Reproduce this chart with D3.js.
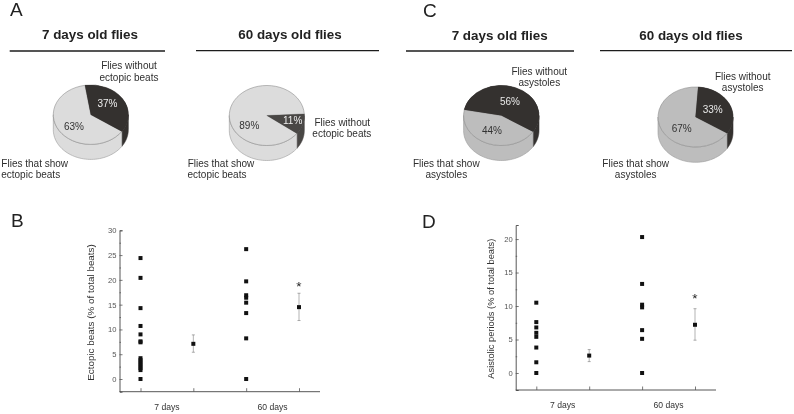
<!DOCTYPE html>
<html><head><meta charset="utf-8">
<script src="https://cdn.jsdelivr.net/npm/d3@7"></script>
<style>html,body{margin:0;padding:0;background:#fff}svg{display:block;filter:blur(0.35px)}text{font-family:"Liberation Sans",Arial,sans-serif}</style>
</head><body><svg id="c" width="794" height="414"></svg>
<script>
// ---- data ----
const pieA7 = [37, 63];
const pieA60 = [11, 89];
const pieC7 = [56, 44];
const pieC60 = [33, 67];
const titles = ["7 days old flies", "60 days old flies"];
const ageLabels = ["7 days", "60 days"];
const ectopic7 = [24.4, 20.4, 14.3, 10.7, 9.0, 7.6, 7.4, 4.2, 3.8, 3.4, 3.0, 2.6, 2.2, 1.8, 0];
const ectopic60 = [26.2, 19.7, 16.9, 16.4, 15.4, 13.3, 8.2, 0];
const ectopicMean = [7.1, 14.5];
const ectopicLow = [5.4, 11.8];
const ectopicHigh = [8.9, 17.3];
const asys7 = [10.5, 7.6, 6.8, 6.0, 5.4, 3.8, 1.6, 0];
const asys60 = [20.3, 13.3, 10.2, 9.8, 6.4, 5.1, 0];
const asysMean = [2.6, 7.2];
const asysLow = [1.7, 4.9];
const asysHigh = [3.5, 9.6];
const ectopicTicks = [0, 5, 10, 15, 20, 25, 30];
const ectopicMinor = [2.5, 7.5, 12.5, 17.5, 22.5, 27.5];
const asysTicks = [0, 5, 10, 15, 20];
const asysMinor = [2.5, 7.5, 12.5, 17.5];
const slots = ["points7", "mean7", "points60", "mean60"];

const svg = d3.select("#c");
const ink = "#2f2f2f";
const tau = Math.PI * 2, rad = d => d * Math.PI / 180;

function txt(x, y, s, o = {}) {
  return svg.append("text").attr("x", x).attr("y", y).text(s)
    .attr("text-anchor", o.a || "middle").attr("font-size", o.size || 10)
    .attr("font-weight", o.w || "normal").attr("fill", o.fill || ink)
    .attr("transform", o.rot ? `rotate(${o.rot} ${x} ${y})` : null);
}
function rule(x1, x2, y) {
  svg.append("line").attr("x1", x1).attr("x2", x2).attr("y1", y).attr("y2", y)
    .attr("stroke", "#1c1c1c").attr("stroke-width", 1.3);
}

function pie3d(values, o) {
  const {cx, cy, rx, ry, depth, startDeg, dark, light} = o;
  const slices = d3.pie().sort(null).value(d => d)
    .startAngle(rad(startDeg)).endAngle(rad(startDeg) + tau)(values);
  const g = svg.append("g").attr("transform", `translate(${cx},${cy})`);
  const px = a => rx * Math.sin(a), py = a => -ry * Math.cos(a);
  const wall = (a0, a1) => {
    const out = [];
    [0, tau, -tau].forEach(sh => {
      const lo = Math.max(a0 + sh, Math.PI / 2), hi = Math.min(a1 + sh, 1.5 * Math.PI);
      if (hi > lo) out.push([lo, hi]);
    });
    return out;
  };
  const cols = [dark, light];
  slices.forEach((s, i) => {
    wall(s.startAngle, s.endAngle).forEach(([lo, hi]) => {
      const n = 48, top = d3.range(n + 1).map(k => lo + (hi - lo) * k / n);
      const pts = top.map(a => [px(a), py(a)])
        .concat(top.slice().reverse().map(a => [px(a), py(a) + depth]));
      g.append("path").attr("d", d3.line()(pts) + "Z").attr("fill", cols[i])
        .attr("stroke", i ? "#9a9a9a" : cols[i]).attr("stroke-width", 0.6);
    });
  });
  const arc = d3.arc().innerRadius(0).outerRadius(1);
  const top = g.append("g").attr("transform", `scale(${rx},${ry})`);
  slices.forEach((s, i) => {
    top.append("path").attr("d", arc(s)).attr("fill", cols[i])
      .attr("stroke", i ? "#8f8f8f" : cols[i]).attr("stroke-width", 0.6)
      .attr("vector-effect", "non-scaling-stroke");
  });
  top.append("path").attr("d", arc(slices[0])).attr("fill", cols[0]);
  txt(cx + o.labDark[0], cy + o.labDark[1], values[0] + "%", {fill: o.darkText});
  txt(cx + o.labLight[0], cy + o.labLight[1], values[1] + "%", {fill: "#333"});
}

// ---- headers ----
const letter = {size: 19, fill: "#222", a: "start"};
txt(10, 16, "A", letter); txt(423, 16.5, "C", letter);
txt(11, 227, "B", letter); txt(422, 227.5, "D", letter);
const titleOpt = {size: 13.4, w: "bold", fill: "#222"};
txt(90, 38.5, titles[0], titleOpt); txt(290, 38.5, titles[1], titleOpt);
txt(499.7, 39.5, titles[0], titleOpt); txt(691, 39.5, titles[1], titleOpt);
rule(9.7, 165, 51); rule(196, 379, 50.7); rule(406, 574, 51); rule(600, 792, 50.7);

// ---- pies ----
const lightA = "#dcdcdc", lightC = "#bdbdbd", darkAll = "#34312f";
pie3d(pieA7, {cx: 90.8, cy: 114.7, rx: 37.5, ry: 29.7, depth: 15, startDeg: -9,
  dark: darkAll, light: lightA, labDark: [16.7, -7.4], labLight: [-16.8, 14.9], darkText: "#eeeeee"});
pie3d(pieA60, {cx: 266.8, cy: 115.5, rx: 37.5, ry: 30, depth: 15, startDeg: 87,
  dark: "#494745", light: lightA, labDark: [25.9, 8.8], labLight: [-17.5, 13.5], darkText: "#eeeeee"});
pie3d(pieC7, {cx: 501.3, cy: 115.5, rx: 37.7, ry: 30, depth: 15, startDeg: -79,
  dark: darkAll, light: lightC, labDark: [8.7, -10.9], labLight: [-9.3, 18.5], darkText: "#e8e8e8"});
pie3d(pieC60, {cx: 695.5, cy: 117, rx: 37.5, ry: 30, depth: 15.3, startDeg: 4,
  dark: darkAll, light: lightC, labDark: [17.2, -4], labLight: [-13.8, 15.3], darkText: "#e8e8e8"});

function two(x, y, a, b, dx) {
  txt(x, y, a); txt(x + (dx || 0), y + 11.3, b);
}
two(129, 69.3, "Flies without", "ectopic beats");
two(34.7, 167, "Flies that show", "ectopic beats", -4);
two(342.3, 126, "Flies without", "ectopic beats", -0.5);
two(221, 167, "Flies that show", "ectopic beats", -4);
two(539.3, 75, "Flies without", "asystoles");
two(446.3, 167, "Flies that show", "asystoles");
two(742.7, 80, "Flies without", "asystoles");
two(635.7, 167, "Flies that show", "asystoles");

// ---- scatter panels ----
function scatter(o) {
  const x = d3.scalePoint().domain(slots).range(o.xr);
  const y = d3.scaleLinear().domain(o.yd).range(o.yr);
  const g = svg.append("g");
  const yAxis = d3.axisLeft(y).tickValues(o.ticks).tickSize(-3).tickPadding(3).tickFormat(d3.format("d"));
  const ya = g.append("g").attr("transform", `translate(${o.axisX},0)`).call(yAxis);
  const minorAxis = d3.axisLeft(y).tickValues(o.minor).tickSize(-1.5).tickFormat("");
  const ym = g.append("g").attr("transform", `translate(${o.axisX},0)`).call(minorAxis);
  ym.select(".domain").remove();
  const xAxis = d3.axisBottom(x).tickSize(-3.5).tickFormat("");
  const xa = g.append("g").attr("transform", `translate(0,${o.axisY})`).call(xAxis);
  xa.select(".domain").attr("d", `M${o.axisX},0H${o.xEnd}`);
  [ya, ym, xa].forEach(a => {
    a.selectAll(".domain").attr("stroke", "#444").attr("stroke-width", 0.9);
    a.selectAll(".tick line").attr("stroke", "#555").attr("stroke-width", 0.8);
  });
  ya.selectAll("text").attr("font-size", 7.6).attr("fill", "#555")
    .attr("font-family", '"Liberation Sans",Arial,sans-serif');
  const dots = (vals, slot) => g.append("g").selectAll("rect").data(vals).join("rect")
    .attr("x", x(slot) - 2).attr("y", d => y(d) - 2).attr("width", 4).attr("height", 4).attr("fill", "#111");
  dots(o.p7, "points7"); dots(o.p60, "points60");
  ["mean7", "mean60"].forEach((slot, i) => {
    const cx = x(slot);
    g.append("line").attr("x1", cx).attr("x2", cx).attr("y1", y(o.low[i])).attr("y2", y(o.high[i]))
      .attr("stroke", "#aaa").attr("stroke-width", 0.9);
    [o.low[i], o.high[i]].forEach(v => g.append("line").attr("x1", cx - 1.5).attr("x2", cx + 1.5)
      .attr("y1", y(v)).attr("y2", y(v)).attr("stroke", "#888").attr("stroke-width", 0.7));
    dots([o.mean[i]], slot);
  });
  txt(x("mean60"), y(o.star) + 8, "*", {size: 13.5, fill: "#222"});
  txt((x("points7") + x("mean7")) / 2, o.axisY + 18, ageLabels[0], {size: 8.6, fill: "#333"});
  txt((x("points60") + x("mean60")) / 2, o.axisY + 18, ageLabels[1], {size: 8.6, fill: "#333"});
  txt(o.labX, o.labY, o.label, {size: o.labSize, rot: -90, fill: "#333"});
}
scatter({xr: [140.5, 299], yd: [-2.56, 30], yr: [391.7, 230.3], axisX: 119.5, axisY: 391.7, xEnd: 320,
  ticks: ectopicTicks, minor: ectopicMinor, p7: ectopic7, p60: ectopic60,
  mean: ectopicMean, low: ectopicLow, high: ectopicHigh, star: 19.4,
  label: "Ectopic beats (% of total beats)", labX: 93.5, labY: 312.5, labSize: 9.9});
scatter({xr: [536.3, 695], yd: [-2.54, 22.1], yr: [390, 225], axisX: 515.7, axisY: 390, xEnd: 716,
  ticks: asysTicks, minor: asysMinor, p7: asys7, p60: asys60,
  mean: asysMean, low: asysLow, high: asysHigh, star: 11.6,
  label: "Asistolic periods (% of total beats)", labX: 494.5, labY: 308.7, labSize: 9.3});
</script></body></html>
